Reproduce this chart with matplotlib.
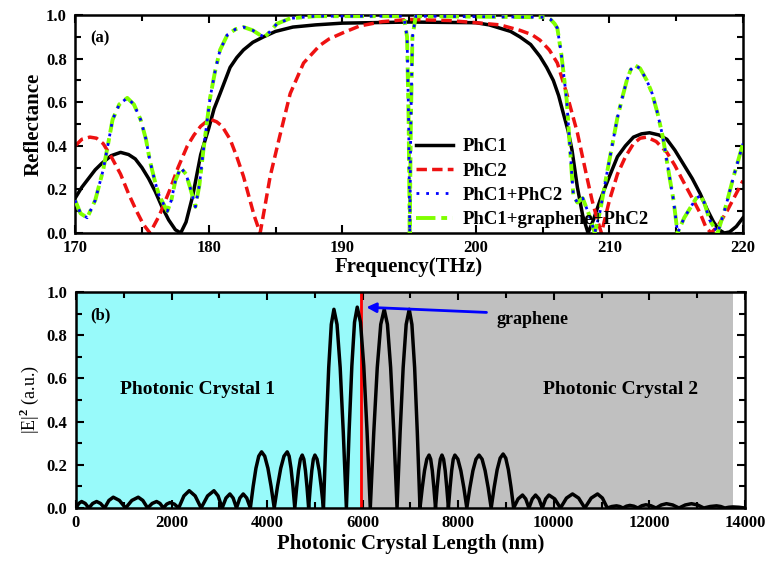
import matplotlib
matplotlib.use("Agg")
import matplotlib.pyplot as plt
from matplotlib.ticker import MultipleLocator, FormatStrFormatter

plt.rcParams['font.family'] = ['Liberation Serif', 'DejaVu Serif']
plt.rcParams['font.weight'] = 'bold'
plt.rcParams['axes.labelweight'] = 'bold'
plt.rcParams['mathtext.fontset'] = 'custom'
plt.rcParams['mathtext.rm'] = 'Liberation Serif'

# (a) reflectance spectra
freq_phc1 = [170.0, 170.5, 171.0, 171.5, 172.0, 172.7, 173.4, 174.0, 174.5, 175.0,
             175.5, 176.0, 176.5, 177.0, 177.5, 177.9, 178.3, 178.8, 179.4, 180.0,
             180.4, 180.85, 181.6, 182.1, 182.6, 183.3, 184.1, 185.0, 186.3, 188.0,
             190.0, 195.0, 200.0, 201.0, 201.8, 202.6, 203.3, 204.1, 204.8, 205.3,
             205.8, 206.2, 206.5, 206.9, 207.2, 207.6, 208.0, 208.4, 208.8, 209.3,
             210.0, 210.6, 211.2, 211.8, 212.4, 213.0, 213.7, 214.3, 214.9, 215.5,
             216.2, 216.8, 217.3, 217.8, 218.2, 218.6, 219.0, 219.5, 220.0]
r_phc1 = [0.16, 0.21, 0.25, 0.29, 0.32, 0.355, 0.37, 0.36, 0.34, 0.30,
          0.25, 0.19, 0.12, 0.06, 0.015, 0.0, 0.05, 0.17, 0.36, 0.48,
          0.57, 0.64, 0.76, 0.805, 0.84, 0.875, 0.90, 0.925, 0.945, 0.955,
          0.963, 0.968, 0.965, 0.955, 0.94, 0.925, 0.90, 0.865, 0.81, 0.76,
          0.70, 0.63, 0.56, 0.47, 0.38, 0.21, 0.08, 0.0, 0.06, 0.15,
          0.26, 0.35, 0.40, 0.44, 0.455, 0.46, 0.45, 0.43, 0.38, 0.32,
          0.25, 0.18, 0.11, 0.05, 0.015, 0.0, 0.005, 0.03, 0.07]

freq_phc2 = [170.0, 170.5, 171.1, 171.6, 172.1, 172.7, 173.4, 174.0, 174.6, 175.1,
             175.6, 176.3, 177.1, 177.7, 178.4, 178.9, 179.4, 179.8, 180.2, 180.6,
             181.0, 181.6, 182.1, 182.6, 183.0, 183.4, 183.85, 184.2, 184.6, 185.3,
             186.1, 187.1, 188.3, 189.0, 190.1, 191.3, 193.0, 195.0, 198.0, 200.0,
             201.8, 203.3, 204.2, 204.8, 205.5, 206.1, 206.8, 207.2, 207.6, 208.3,
             208.7, 209.1, 209.4, 210.0, 210.6, 211.2, 211.8, 212.3, 212.8, 213.5,
             214.3, 214.9, 215.5, 216.2, 216.8, 217.2, 217.6, 218.1, 218.8, 219.4, 220.0]
r_phc2 = [0.40, 0.43, 0.44, 0.435, 0.41, 0.35, 0.27, 0.18, 0.10, 0.04,
          0.0, 0.08, 0.20, 0.30, 0.40, 0.45, 0.49, 0.51, 0.52, 0.51,
          0.49, 0.43, 0.35, 0.26, 0.17, 0.08, 0.0, 0.12, 0.26, 0.44,
          0.64, 0.78, 0.86, 0.89, 0.92, 0.95, 0.97, 0.98, 0.975, 0.965,
          0.955, 0.93, 0.91, 0.885, 0.84, 0.78, 0.64, 0.55, 0.46, 0.26,
          0.15, 0.06, 0.0, 0.15, 0.27, 0.35, 0.41, 0.435, 0.44, 0.42,
          0.37, 0.31, 0.24, 0.16, 0.09, 0.03, 0.0, 0.03, 0.10, 0.17, 0.24]

freq_comb = [170.0, 170.4, 170.9, 171.5, 172.1, 172.5, 172.8, 173.3, 173.9, 174.4,
             174.9, 175.3, 175.6, 176.0, 176.3, 176.9, 177.2, 177.5, 177.9, 178.3,
             178.6, 179.0, 179.3, 179.6, 180.1, 180.5, 180.85, 181.4, 182.0, 182.6,
             183.3, 183.8, 184.2, 184.6, 185.1, 186.1, 188.0, 194.6, 194.85, 194.97,
             195.05, 195.13, 195.25, 195.5, 205.3, 205.6, 205.9, 206.1, 206.4, 206.8,
             207.0, 207.3, 207.6, 208.0, 208.5, 208.9, 209.3, 209.8, 210.2, 210.6,
             211.0, 211.3, 211.6, 211.9, 212.3, 212.8, 213.2, 213.6, 214.0, 214.3,
             214.6, 214.8, 215.1, 215.6, 216.1, 216.5, 216.8, 217.1, 217.5, 218.1,
             218.7, 219.3, 220.0]
r_comb = [0.15, 0.09, 0.07, 0.15, 0.29, 0.42, 0.52, 0.59, 0.62, 0.59,
          0.52, 0.43, 0.33, 0.23, 0.17, 0.10, 0.15, 0.24, 0.30, 0.27,
          0.21, 0.12, 0.22, 0.38, 0.62, 0.75, 0.84, 0.91, 0.935, 0.945,
          0.93, 0.91, 0.90, 0.925, 0.96, 0.985, 0.995, 0.995, 0.9, 0.5,
          0.0, 0.5, 0.9, 0.995, 0.99, 0.98, 0.96, 0.94, 0.82, 0.61,
          0.43, 0.17, 0.14, 0.16, 0.08, 0.0, 0.10, 0.27, 0.40, 0.53,
          0.63, 0.70, 0.75, 0.77, 0.755, 0.70, 0.64, 0.55, 0.44, 0.33,
          0.22, 0.15, 0.0, 0.07, 0.12, 0.16, 0.17, 0.14, 0.06, 0.0,
          0.12, 0.26, 0.41]

# (b) field intensity along the structure
length_nm = [0, 60, 119, 195, 270, 350, 433, 515, 600, 690, 781, 910, 1040,
             1170, 1304, 1400, 1500, 1595, 1688, 1760, 1830, 1900, 1967, 2060, 2150,
             2260, 2371, 2495, 2620, 2755, 2888, 2975, 3060, 3140, 3222, 3290, 3360,
             3430, 3501, 3575, 3650,
             3709, 3767, 3826, 3885, 3951, 4018, 4084, 4150,
             4218, 4286, 4354, 4422, 4462, 4501, 4541, 4580,
             4619, 4658, 4697, 4736, 4770, 4803, 4837, 4870,
             4903, 4936, 4968, 5001, 5046, 5091, 5135, 5180,
             5235, 5290, 5344, 5399, 5464, 5530, 5595, 5660,
             5717, 5774, 5830, 5887, 5955, 6024, 6092, 6160,
             6233, 6306, 6379, 6452, 6519, 6586, 6653, 6720,
             6784, 6848, 6911, 6975, 7031, 7088, 7144, 7200,
             7248, 7295, 7343, 7390, 7424, 7458, 7491, 7525,
             7559, 7593, 7626, 7660, 7694, 7728, 7761, 7795,
             7829, 7863, 7896, 7930, 7993, 8055, 8118, 8180,
             8244, 8308, 8372, 8436, 8500, 8563, 8627, 8690,
             8753, 8815, 8878, 8940, 8995, 9050, 9105, 9160,
             9253, 9346, 9413, 9480, 9550, 9619, 9690, 9760, 9830, 9898, 10020, 10140,
             10266, 10392, 10520, 10650, 10783, 10916, 11018, 11120,
             11216, 11313, 11380, 11450, 11521, 11592, 11676, 11760,
             11843, 11927, 12033, 12140, 12250, 12359, 12490, 12620,
             12751, 12882, 13011, 13140, 13273, 13406, 13493, 13580,
             13665, 13750, 13875, 14000]
e_field = [0.0, 0.021, 0.03, 0.021, 0.0, 0.021, 0.03, 0.021, 0.0, 0.035, 0.05, 0.035, 0.0,
           0.035, 0.05, 0.035, 0.0, 0.021, 0.03, 0.021, 0.0, 0.018, 0.025, 0.018, 0.0,
           0.056, 0.08, 0.056, 0.0, 0.056, 0.08, 0.056, 0.0, 0.046, 0.065, 0.046, 0.0,
           0.046, 0.065, 0.046, 0.0,
           0.10, 0.184, 0.24, 0.26, 0.24, 0.184, 0.10, 0.0,
           0.10, 0.184, 0.24, 0.26, 0.24, 0.184, 0.10, 0.0,
           0.094, 0.173, 0.226, 0.245, 0.226, 0.173, 0.094, 0.0,
           0.094, 0.173, 0.226, 0.245, 0.226, 0.173, 0.094, 0.0,
           0.35, 0.65, 0.85, 0.92, 0.85, 0.65, 0.35, 0.0,
           0.356, 0.657, 0.86, 0.93, 0.86, 0.657, 0.356, 0.0,
           0.35, 0.65, 0.85, 0.92, 0.85, 0.65, 0.35, 0.0,
           0.35, 0.65, 0.85, 0.92, 0.85, 0.65, 0.35, 0.0,
           0.094, 0.173, 0.226, 0.245, 0.226, 0.173, 0.094, 0.0,
           0.094, 0.173, 0.226, 0.245, 0.226, 0.173, 0.094, 0.0,
           0.094, 0.173, 0.226, 0.245, 0.226, 0.173, 0.094, 0.0,
           0.094, 0.173, 0.226, 0.245, 0.226, 0.173, 0.094, 0.0,
           0.096, 0.177, 0.231, 0.25, 0.231, 0.177, 0.096, 0.0,
           0.042, 0.06, 0.042, 0.0, 0.042, 0.06, 0.042, 0.0, 0.042, 0.06, 0.042, 0.0,
           0.046, 0.065, 0.046, 0.0, 0.046, 0.065, 0.046, 0.0,
           0.007, 0.01, 0.007, 0.0, 0.0085, 0.012, 0.0085, 0.0,
           0.0105, 0.015, 0.0105, 0.0, 0.014, 0.02, 0.014, 0.0,
           0.014, 0.02, 0.014, 0.0, 0.007, 0.01, 0.007, 0.0,
           0.0035, 0.005, 0.0035, 0.0]

crystal1_span = [0, 5950]
crystal2_span = [5950, 13750]
graphene_pos = 5965

fig = plt.figure(figsize=(7.67, 5.69), dpi=100)
ax1 = fig.add_axes([0.098, 0.5905, 0.8707, 0.383])
ax2 = fig.add_axes([0.099, 0.1072, 0.8722, 0.3796])

ax1.plot(freq_phc1, r_phc1, color='black', lw=2.5, label='PhC1')
ax1.plot(freq_phc2, r_phc2, color='#ee1111', lw=2.5, ls=(0, (3, 1.5)), label='PhC2')
ax1.plot(freq_comb, r_comb, color='#80ff00', lw=2.8, ls=(0, (5, 1.5, 1.5, 1.5)),
         label='PhC1+graphene+PhC2', zorder=3)
ax1.plot(freq_comb, r_comb, color='blue', lw=2.0, ls=(0, (1, 2.5)), label='PhC1+PhC2', zorder=4)

h, l = ax1.get_legend_handles_labels()
order = [0, 1, 3, 2]
ax1.legend([h[i] for i in order], [l[i] for i in order], loc='upper left',
           bbox_to_anchor=(0.49, 0.495), frameon=False, fontsize=13.5,
           handlelength=2.0, labelspacing=0.38, handletextpad=0.5, borderpad=0.2)

ax1.set_xlim(170, 220)
ax1.set_ylim(0, 1.0)
ax1.set_xlabel('Frequency(THz)', fontsize=15, labelpad=1)
ax1.set_ylabel('Reflectance', fontsize=15, labelpad=2)
ax1.xaxis.set_major_locator(MultipleLocator(10))
ax1.xaxis.set_minor_locator(MultipleLocator(5))
ax1.text(0.022, 0.93, '(a)', transform=ax1.transAxes, fontsize=12, va='top')

ax2.axvspan(*crystal1_span, color='#98fafa', lw=0)
ax2.axvspan(*crystal2_span, color='#c0c0c0', lw=0)
ax2.axvline(graphene_pos, color='red', lw=2)
ax2.plot(length_nm, e_field, color='black', lw=2.5)
ax2.annotate('', xy=(6020, 0.93), xytext=(8650, 0.905),
             arrowprops=dict(arrowstyle='-|>', color='blue', lw=2, mutation_scale=14))
ax2.text(8800, 0.875, 'graphene', fontsize=13, va='center', ha='left')
ax2.text(2550, 0.55, 'Photonic Crystal 1', fontsize=14, ha='center', va='center')
ax2.text(11400, 0.55, 'Photonic Crystal 2', fontsize=14, ha='center', va='center')
ax2.text(0.022, 0.93, '(b)', transform=ax2.transAxes, fontsize=12, va='top')

ax2.set_xlim(0, 14000)
ax2.set_ylim(0, 1.0)
ax2.set_xlabel('Photonic Crystal Length (nm)', fontsize=15, labelpad=2)
ax2.set_ylabel(r'|E|$^2$ (a.u.)', fontsize=13, fontweight='normal', labelpad=4)
ax2.xaxis.set_major_locator(MultipleLocator(2000))
ax2.xaxis.set_minor_locator(MultipleLocator(1000))

for ax in (ax1, ax2):
    ax.yaxis.set_major_locator(MultipleLocator(0.2))
    ax.yaxis.set_minor_locator(MultipleLocator(0.1))
    ax.yaxis.set_major_formatter(FormatStrFormatter('%.1f'))
    ax.tick_params(which='both', direction='in', top=True, right=True, labelsize=12,
                   width=1.5)
    ax.tick_params(which='major', length=6)
    ax.tick_params(which='minor', length=4)
    ax.tick_params(axis='x', which='major', pad=5)
    ax.tick_params(axis='y', which='major', pad=6)
    for s in ax.spines.values():
        s.set_linewidth(1.8)

fig.savefig('out.png', dpi=100)
